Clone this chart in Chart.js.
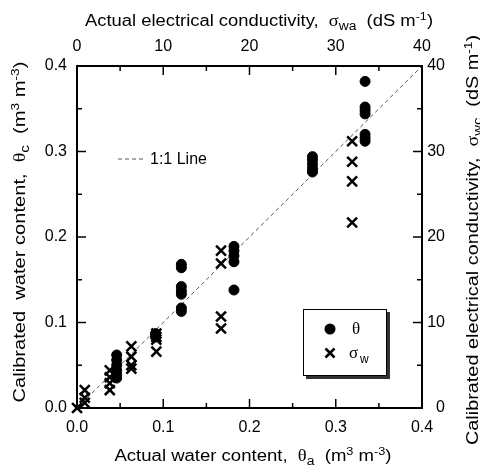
<!DOCTYPE html>
<html>
<head>
<meta charset="utf-8">
<script src="https://cdn.jsdelivr.net/npm/chart.js@4.4.0/dist/chart.umd.min.js"></script>
<style>
  body { margin: 0; background: #fff; }
</style>
</head>
<body>
<canvas id="calib" width="480" height="468"></canvas>
<script>
// water content, m3 m-3 (bottom / left axes)
var theta_actual = [0.046, 0.046, 0.046, 0.046, 0.046, 0.046,
  0.091, 0.091,
  0.121, 0.121, 0.121, 0.121, 0.121, 0.121, 0.121,
  0.182, 0.182, 0.182, 0.182, 0.182,
  0.273, 0.273, 0.273, 0.273, 0.273,
  0.334, 0.334, 0.334, 0.334, 0.334, 0.334, 0.334];
var theta_calib = [0.062, 0.056, 0.050, 0.044, 0.039, 0.035,
  0.087, 0.083,
  0.168, 0.164, 0.142, 0.137, 0.133, 0.117, 0.113,
  0.189, 0.184, 0.178, 0.171, 0.138,
  0.294, 0.290, 0.285, 0.280, 0.276,
  0.382, 0.352, 0.348, 0.344, 0.320, 0.316, 0.312];

// electrical conductivity, dS m-1 (top / right axes)
var sigma_actual = [0, 0.9, 0.9, 0.9, 3.8, 3.8, 3.8, 3.8, 6.3, 6.3, 6.3, 6.3,
  9.2, 9.2, 9.2, 9.2, 16.7, 16.7, 16.7, 16.7, 31.9, 31.9, 31.9, 31.9];
var sigma_calib = [0, 2.1, 1.2, 0.6, 4.4, 3.6, 2.9, 2.1, 7.2, 6.0, 5.0, 4.6,
  8.7, 8.3, 8.0, 6.6, 18.4, 16.9, 10.7, 9.3, 31.2, 28.8, 26.5, 21.7];

var one_to_one = [0, 0.4];
var theta_ticks = [0, 0.1, 0.2, 0.3, 0.4];
var sigma_ticks = [0, 10, 20, 30, 40];

var FONT = '"Liberation Sans", Arial, sans-serif';
var GREEK = '"Liberation Serif", serif';

function pts(xs, ys) {
  return xs.map(function (x, i) { return { x: x, y: ys[i] }; });
}

function set_ticks(list) {
  return function (scale) {
    scale.ticks = list.map(function (v) { return { value: v }; });
  };
}

// text with sub/superscripts, centred on (x, y) baseline, stretched to len
function rich(ctx, parts, x, y, len, rot) {
  ctx.save();
  ctx.translate(x, y);
  ctx.rotate(rot);
  var total = 0;
  parts.forEach(function (p) {
    ctx.font = p[1] + 'px ' + (p[3] || FONT);
    total += ctx.measureText(p[0]).width;
  });
  ctx.scale(len / total, 1);
  var cx = -total / 2;
  ctx.fillStyle = '#000';
  ctx.textBaseline = 'alphabetic';
  ctx.textAlign = 'left';
  parts.forEach(function (p) {
    ctx.font = p[1] + 'px ' + (p[3] || FONT);
    ctx.fillText(p[0], cx, p[2] || 0);
    cx += ctx.measureText(p[0]).width;
  });
  ctx.restore();
}

function draw_cross(ctx, x, y, r) {
  ctx.beginPath();
  ctx.moveTo(x - r, y - r); ctx.lineTo(x + r, y + r);
  ctx.moveTo(x - r, y + r); ctx.lineTo(x + r, y - r);
  ctx.stroke();
}

var extras = {
  id: 'extras',
  afterDraw: function (chart) {
    var ctx = chart.ctx, a = chart.chartArea, s = chart.scales;
    ctx.save();
    ctx.strokeStyle = '#000';
    ctx.lineWidth = 1.5;

    // inward ticks, long on labelled values, short half way between
    function ticks(scale, list, horiz, edge, dir) {
      var step = list[1] - list[0];
      list.forEach(function (v, i) {
        var vals = [[v, 9]];
        if (i < list.length - 1) vals.push([v + step / 2, 5]);
        vals.forEach(function (t) {
          var p = scale.getPixelForValue(t[0]);
          ctx.beginPath();
          if (horiz) { ctx.moveTo(p, edge); ctx.lineTo(p, edge + dir * t[1]); }
          else { ctx.moveTo(edge, p); ctx.lineTo(edge + dir * t[1], p); }
          ctx.stroke();
        });
      });
    }
    ticks(s.x, theta_ticks, true, a.bottom, -1);
    ticks(s.x2, sigma_ticks, true, a.top, 1);
    ticks(s.y, theta_ticks, false, a.left, 1);
    ticks(s.y2, sigma_ticks, false, a.right, -1);

    // 1:1 line key
    ctx.strokeStyle = '#555';
    ctx.lineWidth = 1;
    ctx.setLineDash([4, 3]);
    ctx.beginPath();
    ctx.moveTo(118, 159); ctx.lineTo(146, 159);
    ctx.stroke();
    ctx.setLineDash([]);
    ctx.fillStyle = '#000';
    ctx.font = '16px ' + FONT;
    ctx.textBaseline = 'middle';
    ctx.fillText('1:1 Line', 150, 160);

    // legend box with shadow
    ctx.fillStyle = '#333';
    ctx.fillRect(306, 312, 84, 67);
    ctx.fillStyle = '#fff';
    ctx.fillRect(303, 309, 84, 67);
    ctx.strokeStyle = '#000';
    ctx.lineWidth = 1;
    ctx.strokeRect(303.5, 309.5, 83, 66);

    ctx.fillStyle = '#000';
    ctx.beginPath();
    ctx.arc(330, 329, 5.5, 0, Math.PI * 2);
    ctx.fill();
    ctx.lineWidth = 2.5;
    draw_cross(ctx, 330, 353, 4.5);

    ctx.textBaseline = 'alphabetic';
    ctx.font = '17px ' + GREEK;
    ctx.fillText('θ', 352, 334);
    ctx.fillText('σ', 349, 358);
    ctx.font = '12px ' + FONT;
    ctx.fillText('w', 360, 363);
    ctx.restore();

    // axis titles
    var sup = -6, sub = 4;
    rich(ctx, [['Actual water content,  ', 16], ['θ', 16, 0, GREEK], ['a', 12, sub],
      ['  (m', 16], ['3', 11, sup], [' m', 16], ['-3', 11, sup], [')', 16]],
      253, 461, 277, 0);
    rich(ctx, [['Actual electrical conductivity,  ', 16], ['σ', 16, 0, GREEK], ['wa', 12, sub],
      ['  (dS m', 16], ['-1', 11, sup], [')', 16]],
      259, 26, 348, 0);
    rich(ctx, [['Calibrated  water content,  ', 16], ['θ', 16, 0, GREEK], ['c', 12, sub],
      ['  (m', 16], ['3', 11, sup], [' m', 16], ['-3', 11, sup], [')', 16]],
      25, 232, 341, -Math.PI / 2);
    rich(ctx, [['Calibrated electrical conductivity,  ', 16], ['σ', 16, 0, GREEK], ['wc', 12, sub],
      ['  (dS m', 16], ['-1', 11, sup], [')', 16]],
      478, 240, 410, -Math.PI / 2);
  }
};

function axis(pos, min, max, list, size, extra) {
  var o = {
    type: 'linear',
    position: pos,
    min: min,
    max: max,
    afterBuildTicks: set_ticks(list),
    afterFit: function (scale) {
      if (pos === 'top' || pos === 'bottom') scale.height = size;
      else scale.width = size;
    },
    grid: { drawOnChartArea: false, drawTicks: false },
    border: { color: '#000', width: 2 },
    ticks: { color: '#000', font: { family: FONT, size: 16 }, padding: 10 }
  };
  for (var k in extra) o.ticks[k] = extra[k];
  return o;
}

var ctx = document.getElementById('calib').getContext('2d');
var chart = new Chart(ctx, {
  type: 'scatter',
  data: {
    datasets: [{
      data: pts(one_to_one, one_to_one),
      showLine: true,
      borderColor: '#555',
      borderWidth: 1,
      borderDash: [4, 3],
      pointRadius: 0,
      xAxisID: 'x',
      yAxisID: 'y',
      order: 3
    }, {
      data: pts(theta_actual, theta_calib),
      pointStyle: 'circle',
      pointRadius: 5,
      borderWidth: 1,
      backgroundColor: '#000',
      borderColor: '#000',
      xAxisID: 'x',
      yAxisID: 'y',
      clip: false,
      order: 2
    }, {
      data: pts(sigma_actual, sigma_calib),
      pointStyle: 'crossRot',
      pointRadius: 7,
      borderWidth: 2.5,
      borderColor: '#000',
      xAxisID: 'x2',
      yAxisID: 'y2',
      clip: false,
      order: 1
    }]
  },
  options: {
    responsive: false,
    animation: false,
    devicePixelRatio: 1,
    layout: { padding: { right: 35 } },
    plugins: {
      legend: { display: false },
      tooltip: { enabled: false }
    },
    scales: {
      x: axis('bottom', 0, 0.4, theta_ticks, 60, { callback: function (v) { return v.toFixed(1); } }),
      y: axis('left', 0, 0.4, theta_ticks, 77, { callback: function (v) { return v.toFixed(1); } }),
      x2: axis('top', 0, 40, sigma_ticks, 66, {}),
      y2: axis('right', 0, 40, sigma_ticks, 23, { crossAlign: 'far' })
    }
  },
  plugins: [extras]
});
</script>
</body>
</html>
